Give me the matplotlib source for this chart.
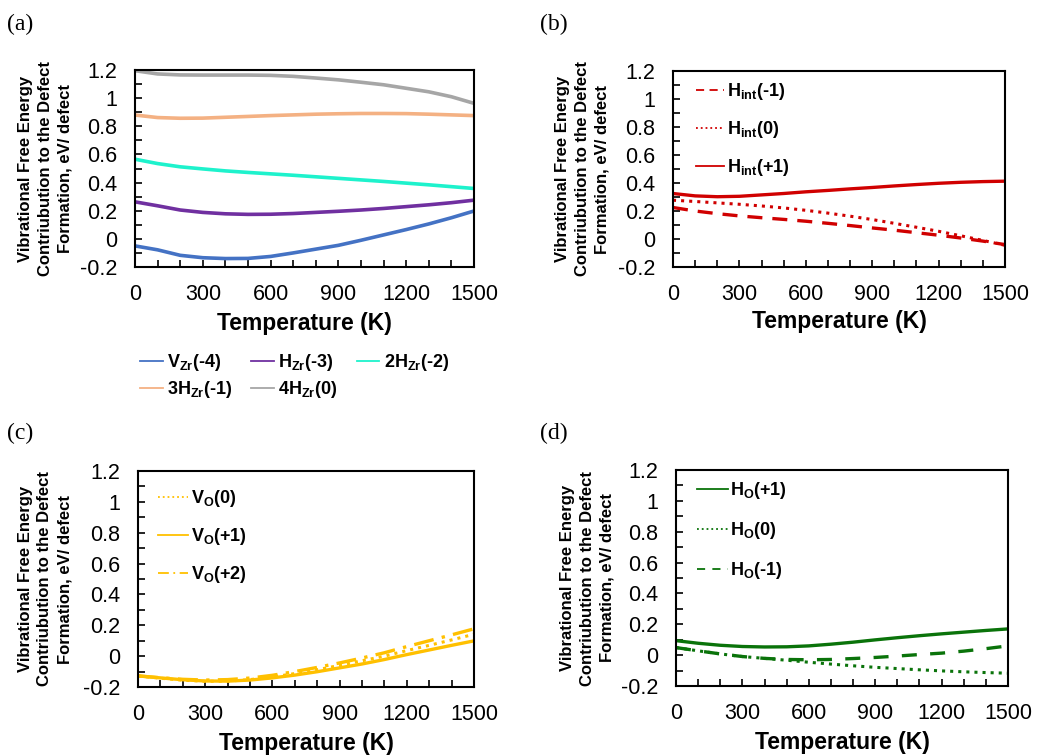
import matplotlib

matplotlib.use("Agg")
import matplotlib.pyplot as plt
from matplotlib.ticker import MultipleLocator

plt.rcParams["font.family"] = ["Liberation Sans", "DejaVu Sans"]
plt.rcParams["mathtext.fontset"] = "custom"
plt.rcParams["mathtext.rm"] = "Liberation Sans"
plt.rcParams["mathtext.bf"] = "Liberation Sans:bold"
plt.rcParams["mathtext.it"] = "Liberation Sans:italic"

temperature = [0, 100, 200, 300, 400, 500, 600, 700, 800, 900, 1000, 1100, 1200, 1300, 1400, 1500]

# (a) Zr-site defects
v_zr_m4 = [-0.05, -0.078, -0.117, -0.134, -0.14, -0.139, -0.125, -0.1, -0.073, -0.046, -0.01, 0.028, 0.066, 0.106, 0.15, 0.198]
h_zr_m3 = [0.263, 0.235, 0.205, 0.188, 0.178, 0.174, 0.175, 0.18, 0.188, 0.196, 0.205, 0.216, 0.229, 0.242, 0.257, 0.275]
h2_zr_m2 = [0.566, 0.535, 0.512, 0.497, 0.483, 0.472, 0.462, 0.452, 0.441, 0.43, 0.419, 0.408, 0.396, 0.384, 0.371, 0.358]
h3_zr_m1 = [0.88, 0.862, 0.857, 0.858, 0.864, 0.87, 0.876, 0.881, 0.886, 0.889, 0.891, 0.891, 0.89, 0.886, 0.881, 0.876]
h4_zr_0 = [1.195, 1.172, 1.165, 1.164, 1.164, 1.164, 1.162, 1.155, 1.143, 1.13, 1.113, 1.095, 1.07, 1.045, 1.01, 0.963]

# (b) interstitial H
h_int_m1 = [0.225, 0.2, 0.181, 0.165, 0.152, 0.14, 0.127, 0.112, 0.096, 0.079, 0.063, 0.045, 0.027, 0.007, -0.015, -0.04]
h_int_0 = [0.277, 0.268, 0.258, 0.248, 0.236, 0.222, 0.205, 0.185, 0.163, 0.139, 0.112, 0.084, 0.055, 0.023, -0.01, -0.045]
h_int_p1 = [0.325, 0.308, 0.302, 0.305, 0.315, 0.325, 0.337, 0.347, 0.358, 0.368, 0.379, 0.389, 0.398, 0.405, 0.41, 0.413]

# (c) oxygen vacancy
v_o_0 = [-0.128, -0.143, -0.156, -0.163, -0.162, -0.152, -0.135, -0.113, -0.088, -0.06, -0.03, 0.0, 0.036, 0.07, 0.105, 0.142]
v_o_p1 = [-0.128, -0.141, -0.153, -0.161, -0.162, -0.155, -0.141, -0.123, -0.101, -0.076, -0.051, -0.022, 0.01, 0.04, 0.07, 0.099]
v_o_p2 = [-0.128, -0.14, -0.15, -0.155, -0.152, -0.142, -0.124, -0.1, -0.073, -0.044, -0.012, 0.022, 0.062, 0.1, 0.138, 0.177]

# (d) H on O site
h_o_p1 = [0.094, 0.077, 0.064, 0.056, 0.053, 0.054, 0.06, 0.071, 0.084, 0.099, 0.113, 0.126, 0.138, 0.149, 0.16, 0.17]
h_o_0 = [0.049, 0.028, 0.008, -0.009, -0.021, -0.033, -0.046, -0.058, -0.069, -0.079, -0.087, -0.095, -0.102, -0.108, -0.113, -0.117]
h_o_m1 = [0.049, 0.028, 0.008, -0.009, -0.021, -0.028, -0.03, -0.028, -0.022, -0.015, -0.006, 0.004, 0.013, 0.026, 0.042, 0.06]

YLABEL = "Vibrational Free Energy\nContriubution to the Defect\nFormation, eV/ defect"
RED = "#D00000"
YELLOW = "#FFC000"
GREEN = "#0A730A"

W, H = 1037, 756


def _axes(fig, left, top, right, bottom):
    return fig.add_axes([left / W, 1 - bottom / H, (right - left) / W, (bottom - top) / H])


def _style(ax, ylabel_x, labelpad):
    ax.set_xlim(0, 1500)
    ax.set_ylim(-0.2, 1.2)
    ax.xaxis.set_major_locator(MultipleLocator(300))
    ax.xaxis.set_minor_locator(MultipleLocator(100))
    ax.yaxis.set_minor_locator(MultipleLocator(0.1))
    ax.set_yticks([-0.2, 0, 0.2, 0.4, 0.6, 0.8, 1, 1.2])
    ax.set_yticklabels(["-0.2", "0", "0.2", "0.4", "0.6", "0.8", "1", "1.2"])
    ax.tick_params(which="both", direction="in", length=5, width=1.2, labelsize=15.5)
    ax.tick_params(axis="x", pad=12)
    ax.tick_params(axis="y", pad=13)
    for sp in ax.spines.values():
        sp.set_linewidth(1.5)
    ax.set_xlabel("Temperature (K)", fontsize=16.5, fontweight="bold", labelpad=labelpad)
    ax.text(ylabel_x, 0.5, YLABEL, transform=ax.transAxes, rotation=90, ha="center",
            va="center", multialignment="center", fontsize=12, fontweight="bold",
            linespacing=1.4)


def _thin_legend(leg, lw=1.3):
    for h in leg.legend_handles:
        h.set_linewidth(lw)


fig = plt.figure(figsize=(W / 100, H / 100), dpi=100)

# panel (a)
ax = _axes(fig, 135, 70, 474, 267)
l1, = ax.plot(temperature, v_zr_m4, color="#4472C4", lw=2.6, label=r"$\mathbf{V_{Zr}}$(-4)")
l2, = ax.plot(temperature, h_zr_m3, color="#7030A0", lw=2.6, label=r"$\mathbf{H_{Zr}}$(-3)")
l3, = ax.plot(temperature, h2_zr_m2, color="#1EF2CC", lw=2.6, label=r"2$\mathbf{H_{Zr}}$(-2)")
l4, = ax.plot(temperature, h3_zr_m1, color="#F4B183", lw=2.6, label=r"3$\mathbf{H_{Zr}}$(-1)")
l5, = ax.plot(temperature, h4_zr_0, color="#A6A6A6", lw=2.6, label=r"4$\mathbf{H_{Zr}}$(0)")
_style(ax, -0.265, 5)
# column-wise fill order so rows read V, H, 2H / 3H, 4H
handles = [l1, l4, l2, l5, l3]
leg = ax.legend(handles=handles, labels=[h.get_label() for h in handles], loc="upper left",
                bbox_to_anchor=(140 / W, 1 - 352 / H), bbox_transform=fig.transFigure,
                ncol=3, frameon=False, prop={"weight": "bold", "size": 13}, handlelength=1.25,
                handletextpad=0.25, columnspacing=1.05, labelspacing=0.35, borderpad=0, borderaxespad=0)
_thin_legend(leg)
fig.text(7 / W, 1 - 24 / H, "(a)", family="Liberation Serif", fontsize=17, va="center")

# panel (b)
ax = _axes(fig, 673, 71, 1005, 267)
ax.plot(temperature, h_int_m1, color=RED, lw=2.4, ls=(0, (4.5, 3)), label=r"$\mathbf{H_{int}}$(-1)")
ax.plot(temperature, h_int_0, color=RED, lw=2.2, ls=":", label=r"$\mathbf{H_{int}}$(0)")
ax.plot(temperature, h_int_p1, color=RED, lw=2.4, label=r"$\mathbf{H_{int}}$(+1)")
_style(ax, -0.274, 4)
leg = ax.legend(loc="upper left", bbox_to_anchor=(23 / 332, 1 - 10 / 196), frameon=False,
                prop={"weight": "bold", "size": 13}, handlelength=1.55, handletextpad=0.15,
                labelspacing=0.95, borderpad=0, borderaxespad=0)
_thin_legend(leg)
fig.text(540 / W, 1 - 24 / H, "(b)", family="Liberation Serif", fontsize=17, va="center")

# panel (c)
ax = _axes(fig, 138, 471, 474, 687)
ax.plot(temperature, v_o_0, color=YELLOW, lw=2.2, ls=":", label=r"$\mathbf{V_{O}}$(0)")
ax.plot(temperature, v_o_p1, color=YELLOW, lw=2.4, label=r"$\mathbf{V_{O}}$(+1)")
ax.plot(temperature, v_o_p2, color=YELLOW, lw=2.4, ls=(0, (6, 2.5, 1, 2.5)), label=r"$\mathbf{V_{O}}$(+2)")
_style(ax, -0.277, 5)
leg = ax.legend(loc="upper left", bbox_to_anchor=(20 / 336, 1 - 17 / 216), frameon=False,
                prop={"weight": "bold", "size": 13}, handlelength=1.65, handletextpad=0.2,
                labelspacing=0.95, borderpad=0, borderaxespad=0)
_thin_legend(leg)
fig.text(7 / W, 1 - 433 / H, "(c)", family="Liberation Serif", fontsize=17, va="center")

# panel (d)
ax = _axes(fig, 676, 470, 1008, 686)
ax.plot(temperature, h_o_p1, color=GREEN, lw=2.4, label=r"$\mathbf{H_{O}}$(+1)")
ax.plot(temperature, h_o_0, color=GREEN, lw=2.2, ls=":", label=r"$\mathbf{H_{O}}$(0)")
ax.plot(temperature, h_o_m1, color=GREEN, lw=2.4, ls=(0, (4.5, 4)), label=r"$\mathbf{H_{O}}$(-1)")
_style(ax, -0.268, 5)
leg = ax.legend(loc="upper left", bbox_to_anchor=(21 / 332, 1 - 10 / 216), frameon=False,
                prop={"weight": "bold", "size": 13}, handlelength=1.7, handletextpad=0.15,
                labelspacing=1.05, borderpad=0, borderaxespad=0)
_thin_legend(leg)
fig.text(540 / W, 1 - 433 / H, "(d)", family="Liberation Serif", fontsize=17, va="center")

fig.savefig("out.png", dpi=100)
plt.close(fig)
